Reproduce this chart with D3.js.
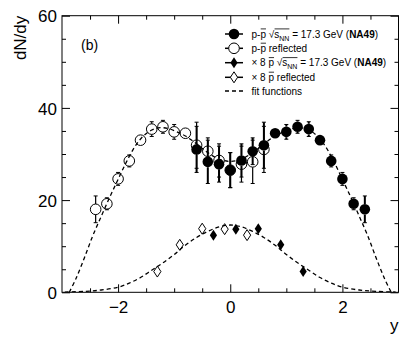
<!DOCTYPE html>
<html><head><meta charset="utf-8">
<script src="https://cdn.jsdelivr.net/npm/d3@7"></script>
<style>body{margin:0;background:#fff}svg{display:block}text{font-family:"Liberation Sans",Arial,sans-serif}</style>
</head><body><svg id="c" width="411" height="348"></svg>
<script>
// net-proton dN/dy (NA49, 17.3 GeV)
const protonX   = [-0.6,-0.4,-0.2,0,0.2,0.4,0.6,0.8,1.0,1.2,1.4,1.6,1.8,2.0,2.2,2.4];
const protonY   = [31.0,28.3,27.8,26.5,28.6,30.6,31.9,34.5,34.8,35.9,35.4,33.0,28.5,24.6,19.2,18.0];
const protonErr = [5.0,4.7,3.9,3.8,3.6,2.9,5.0,1.1,1.6,1.4,1.6,1.1,1.3,1.4,1.3,2.9];
// anti-proton x8
const pbarX = [-0.3,0.1,0.5,0.9,1.3];
const pbarY = [12.4,13.7,13.8,10.3,4.5];
// fit functions
const fitPX = [-2.87,-2.75,-2.6,-2.45,-2.3,-2.15,-2.0,-1.85,-1.7,-1.55,-1.4,-1.25,-1.1,-0.95,-0.8,-0.6,-0.4,-0.2,0,0.2,0.4,0.6,0.8,0.95,1.1,1.25,1.4,1.55,1.7,1.85,2.0,2.15,2.3,2.45,2.6,2.75,2.87];
const fitPY = [0,3.0,7.5,12.3,16.5,20.6,24.5,28.3,31.6,33.9,35.2,35.7,35.5,34.8,33.9,32.2,30.3,28.9,28.4,28.9,30.3,32.2,33.9,34.8,35.5,35.7,35.2,33.9,31.6,28.3,24.5,20.6,16.5,12.3,7.5,3.0,0];
const fitAX = [-2.95,-2.6,-2.3,-2.0,-1.8,-1.6,-1.4,-1.2,-1.0,-0.8,-0.6,-0.4,-0.2,0,0.2,0.4,0.6,0.8,1.0,1.2,1.4,1.6,1.8,2.0,2.3,2.6,2.95];
const fitAY = [0.05,0.2,0.5,1.1,2.0,3.2,4.8,6.4,8.2,10.2,11.9,13.2,14.2,14.6,14.2,13.2,11.9,10.2,8.2,6.4,4.8,3.2,2.0,1.1,0.5,0.2,0.05];
const xMajor = [-2,0,2];
const xMinor = [-2.5,-1.5,-1,-0.5,0.5,1,1.5,2.5];
const yMajor = [0,20,40,60];
const yMinor = [5,10,15,25,30,35,45,50,55];

const svg = d3.select("#c");
const L=62,R=398.5,T=15.7,B=292.3;
const x = d3.scaleLinear([-3,3],[L,R]);
const y = d3.scaleLinear([0,60],[B,T]);
const clipId="pc";
svg.append("clipPath").attr("id",clipId).append("rect").attr("x",L).attr("y",T).attr("width",R-L).attr("height",B-T);

const fmt = d => d<0 ? "\u2212"+(-d) : String(d);
function ax(gen, tr, vals, size, labels){
  const g=svg.append("g").attr("transform",tr).call(gen.tickValues(vals).tickFormat(fmt).tickSize(size).tickSizeOuter(0).tickPadding(labels?6:0));
  g.select(".domain").remove();
  g.selectAll("line").attr("stroke","#000").attr("stroke-width",1);
  if(!labels) g.selectAll("text").remove();
  else g.selectAll("text").attr("font-size",17).attr("font-family","Liberation Sans, Arial, sans-serif").attr("fill","#000");
  return g;
}
ax(d3.axisBottom(x),`translate(0,${B})`,xMajor,-8,true).selectAll("text").attr("y",8).attr("dy","0.75em");
ax(d3.axisBottom(x),`translate(0,${B})`,xMinor,-4,false);
ax(d3.axisTop(x),`translate(0,${T})`,xMajor,-8,false);
ax(d3.axisTop(x),`translate(0,${T})`,xMinor,-4,false);
ax(d3.axisLeft(y),`translate(${L},0)`,yMajor,-8,true).selectAll("text").attr("x",-5).attr("dy","0.36em");
ax(d3.axisLeft(y),`translate(${L},0)`,yMinor,-4,false);
ax(d3.axisRight(y),`translate(${R},0)`,yMajor,-8,false);
ax(d3.axisRight(y),`translate(${R},0)`,yMinor,-4,false);
svg.append("rect").attr("x",L).attr("y",T).attr("width",R-L).attr("height",B-T).attr("fill","none").attr("stroke","#000").attr("stroke-width",1);

svg.append("text").attr("transform",`translate(26,${T}) rotate(-90)`).attr("text-anchor","end").attr("font-size",17).text("dN/dy");
svg.append("text").attr("x",R).attr("y",331).attr("text-anchor","end").attr("font-size",17).text("y");
svg.append("text").attr("x",81).attr("y",50).attr("font-size",14).text("(b)");

const plot = svg.append("g").attr("clip-path",`url(#${clipId})`);
const line = d3.line().x(d=>x(d[0])).y(d=>y(d[1])).curve(d3.curveCatmullRom);
[[fitPX,fitPY],[fitAX,fitAY]].forEach(([xs,ys])=>{
  plot.append("path").attr("d",line(xs.map((v,i)=>[v,ys[i]]))).attr("fill","none").attr("stroke","#000").attr("stroke-width",1.3).attr("stroke-dasharray","4,3");
});

function errBars(xs,ys,es,w,r){
  xs.forEach((xv,i)=>{
    const cx=x(xv),cy=y(ys[i]),top=y(ys[i]+es[i]),bot=y(ys[i]-es[i]);
    if(cy-top>r){
      plot.append("line").attr("x1",cx).attr("x2",cx).attr("y1",top).attr("y2",cy-r).attr("stroke","#000").attr("stroke-width",w);
      plot.append("line").attr("x1",cx).attr("x2",cx).attr("y1",bot).attr("y2",cy+r).attr("stroke","#000").attr("stroke-width",w);
      plot.append("line").attr("x1",cx-2).attr("x2",cx+2).attr("y1",top).attr("y2",top).attr("stroke","#000").attr("stroke-width",1);
      plot.append("line").attr("x1",cx-2).attr("x2",cx+2).attr("y1",bot).attr("y2",bot).attr("stroke","#000").attr("stroke-width",1);
    }
  });
}
const diamond="M0,-5.5L3.6,0L0,5.5L-3.6,0Z";
errBars(protonX.map(v=>-v),protonY,protonErr,1.2,5.3);
protonX.forEach((xv,i)=>plot.append("circle").attr("cx",x(-xv)).attr("cy",y(protonY[i])).attr("r",5.3).attr("fill","none").attr("stroke","#000").attr("stroke-width",1));
pbarX.forEach((xv,i)=>plot.append("path").attr("d",diamond).attr("transform",`translate(${x(-xv)},${y(pbarY[i])})`).attr("fill","none").attr("stroke","#000").attr("stroke-width",1));
errBars(protonX,protonY,protonErr,2,5.3);
protonX.forEach((xv,i)=>plot.append("circle").attr("cx",x(xv)).attr("cy",y(protonY[i])).attr("r",5.3).attr("fill","#000"));
pbarX.forEach((xv,i)=>plot.append("path").attr("d",diamond).attr("transform",`translate(${x(xv)},${y(pbarY[i])})`).attr("fill","#000"));

// legend
const fs=10;
function rich(xp,yp,parts){
  const t=svg.append("text").attr("x",xp).attr("y",yp).attr("font-size",fs);
  let shift=0, idx=0; const spans=[];
  parts.forEach(p=>{
    const target=p.sub?fs*0.3:0;
    const ts=t.append("tspan").text(p.t).attr("dy",target-shift);
    shift=target;
    if(p.sub) ts.attr("font-size",fs*0.7);
    if(p.bold) ts.attr("font-weight","bold");
    spans.push({p,start:idx,end:idx+p.t.length-1});
    idx+=p.t.length;
  });
  const node=t.node();
  const groups={};
  spans.forEach(s=>{ if(s.p.over){ (groups[s.p.over]=groups[s.p.over]||[]).push(s);} });
  Object.values(groups).forEach(arr=>{
    const a=node.getExtentOfChar(arr[0].start), b=node.getExtentOfChar(arr[arr.length-1].end);
    const yy=yp-fs*0.86;
    svg.append("line").attr("x1",a.x+0.3).attr("x2",b.x+b.width).attr("y1",yy).attr("y2",yy).attr("stroke","#000").attr("stroke-width",0.8);
  });
}
const lx1=225,lx2=243,lm=234,tx=251.5;
const rows=[34,48.3,62.7,77.3,91];
function legLine(yy,dash){svg.append("line").attr("x1",lx1).attr("x2",lx2).attr("y1",yy).attr("y2",yy).attr("stroke","#000").attr("stroke-width",dash?1.3:1.5).attr("stroke-dasharray",dash?"4,3":null);}
legLine(rows[0]); svg.append("circle").attr("cx",lm).attr("cy",rows[0]).attr("r",5.3).attr("fill","#000");
legLine(rows[1]); svg.append("circle").attr("cx",lm).attr("cy",rows[1]).attr("r",5.3).attr("fill","#fff").attr("stroke","#000");
legLine(rows[2]); svg.append("path").attr("d",diamond).attr("transform",`translate(${lm},${rows[2]})`).attr("fill","#000");
legLine(rows[3]); svg.append("path").attr("d",diamond).attr("transform",`translate(${lm},${rows[3]})`).attr("fill","#fff").attr("stroke","#000");
legLine(rows[4],true);
const off=3.5;
rich(tx,rows[0]+off,[{t:"p-"},{t:"p",over:"a"},{t:" \u221A"},{t:"s",over:"b"},{t:"NN",sub:true,over:"b"},{t:" = 17.3 GeV ("},{t:"NA49",bold:true},{t:")"}]);
rich(tx,rows[1]+off,[{t:"p-"},{t:"p",over:"a"},{t:" reflected"}]);
rich(tx,rows[2]+off,[{t:"\u00D7 8 "},{t:"p",over:"a"},{t:" \u221A"},{t:"s",over:"b"},{t:"NN",sub:true,over:"b"},{t:" = 17.3 GeV ("},{t:"NA49",bold:true},{t:")"}]);
rich(tx,rows[3]+off,[{t:"\u00D7 8 "},{t:"p",over:"a"},{t:" reflected"}]);
rich(tx,rows[4]+off,[{t:"fit functions"}]);
</script></body></html>
